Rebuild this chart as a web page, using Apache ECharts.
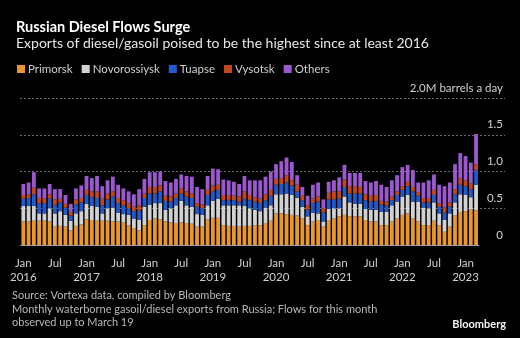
<!DOCTYPE html>
<html>
<head>
<meta charset="utf-8">
<script src="https://cdn.jsdelivr.net/npm/echarts@6/dist/echarts.min.js"></script>
<style>
html,body{margin:0;padding:0;background:#000;}
#chart{width:520px;height:338px;}
</style>
</head>
<body>
<div id="chart"></div>
<script>
const categories = [
"2016-01","2016-02","2016-03","2016-04","2016-05","2016-06","2016-07","2016-08","2016-09","2016-10","2016-11","2016-12",
"2017-01","2017-02","2017-03","2017-04","2017-05","2017-06","2017-07","2017-08","2017-09","2017-10","2017-11","2017-12",
"2018-01","2018-02","2018-03","2018-04","2018-05","2018-06","2018-07","2018-08","2018-09","2018-10","2018-11","2018-12",
"2019-01","2019-02","2019-03","2019-04","2019-05","2019-06","2019-07","2019-08","2019-09","2019-10","2019-11","2019-12",
"2020-01","2020-02","2020-03","2020-04","2020-05","2020-06","2020-07","2020-08","2020-09","2020-10","2020-11","2020-12",
"2021-01","2021-02","2021-03","2021-04","2021-05","2021-06","2021-07","2021-08","2021-09","2021-10","2021-11","2021-12",
"2022-01","2022-02","2022-03","2022-04","2022-05","2022-06","2022-07","2022-08","2022-09","2022-10","2022-11","2022-12",
"2023-01","2023-02","2023-03"
];
const primorsk = [
.32,.32,.33,.33,.33,.32,.25,.26,.25,.20,.26,.28,
.35,.34,.33,.33,.33,.32,.32,.31,.27,.23,.20,.27,
.34,.36,.35,.32,.31,.30,.31,.30,.29,.25,.25,.35,
.37,.37,.27,.26,.26,.25,.26,.26,.27,.27,.30,.33,
.43,.43,.42,.41,.40,.36,.27,.32,.34,.25,.34,.36,
.39,.41,.39,.39,.39,.34,.32,.32,.27,.27,.32,.36,
.41,.43,.36,.32,.27,.27,.33,.27,.18,.25,.40,.45,
.46,.48,.47
];
const novorossiysk = [
.21,.21,.20,.10,.10,.18,.18,.20,.16,.13,.17,.18,
.21,.19,.19,.10,.17,.19,.12,.11,.14,.13,.14,.25,
.21,.21,.22,.16,.19,.24,.29,.24,.23,.17,.16,.19,
.23,.26,.27,.28,.28,.29,.27,.24,.21,.19,.21,.21,
.26,.26,.28,.27,.24,.16,.12,.12,.09,.07,.15,.14,
.11,.25,.19,.17,.17,.15,.16,.16,.18,.18,.22,.23,
.25,.25,.23,.27,.24,.23,.25,.16,.16,.18,.18,.24,
.22,.17,.35
];
const tuapse = [
.10,.11,.16,.14,.14,.13,.12,.12,.10,.07,.12,.12,
.12,.12,.12,.11,.12,.15,.13,.12,.09,.10,.13,.12,
.15,.13,.16,.12,.09,.10,.10,.12,.12,.10,.09,.14,
.13,.12,.07,.07,.07,.05,.10,.11,.11,.11,.10,.13,
.13,.14,.15,.13,.09,.09,.09,.13,.16,.12,.13,.12,
.13,.13,.12,.14,.14,.12,.11,.12,.10,.09,.07,.09,
.09,.12,.14,.08,.07,.08,.10,.09,.10,.09,.11,.13,
.12,.11,.20
];
const vysotsk = [
.05,.05,.09,.07,.06,.06,.07,.05,.05,.05,.07,.06,
.07,.08,.09,.09,.08,.07,.07,.07,.07,.06,.07,.06,
.09,.09,.08,.07,.07,.06,.07,.07,.06,.05,.05,.07,
.08,.07,.07,.07,.06,.07,.10,.07,.06,.06,.08,.08,
.08,.08,.10,.07,.09,.07,.06,.06,.07,.06,.09,.11,
.10,.10,.10,.10,.09,.08,.08,.08,.05,.05,.05,.05,
.05,.06,.06,.05,.06,.06,.07,.05,.07,.06,.07,.09,
.08,.08,.08
];
const others = [
.15,.16,.21,.13,.14,.14,.14,.13,.12,.11,.15,.17,
.19,.18,.21,.17,.18,.20,.18,.16,.16,.17,.22,.20,
.20,.20,.19,.20,.19,.20,.19,.21,.23,.22,.21,.19,
.23,.21,.21,.20,.19,.17,.21,.20,.23,.25,.24,.25,
.20,.23,.24,.25,.13,.11,.13,.19,.19,.12,.15,.15,
.19,.20,.18,.18,.19,.18,.18,.19,.22,.20,.22,.22,
.26,.23,.23,.13,.21,.24,.21,.25,.29,.27,.34,.34,
.33,.28,.41
];
const seriesNames = ["Primorsk","Novorossiysk","Tuapse","Vysotsk","Others"];
const seriesColors = ["#E8962E","#D2D2D2","#1F5CCB","#C4461F","#9B58CF"];
const yTicks = [0, 0.5, 1, 1.5, 2];
const yUnitLabel = "2.0M barrels a day";
const footerLines = [
"Source: Vortexa data, compiled by Bloomberg",
"Monthly waterborne gasoil/diesel exports from Russia; Flows for this month",
"observed up to March 19"
];

const FONT = "Lato, 'Noto Sans', sans-serif";
const chart = echarts.init(document.getElementById('chart'), null, {renderer:'canvas'});
const values = [primorsk, novorossiysk, tuapse, vysotsk, others];

chart.setOption({
  backgroundColor: '#000',
  animation: false,
  textStyle: {fontFamily: FONT},
  title: {
    text: 'Russian Diesel Flows Surge',
    subtext: 'Exports of diesel/gasoil poised to be the highest since at least 2016',
    left: 11, top: 15, itemGap: 1,
    textStyle: {color:'#fff', fontSize:14.5, fontWeight:'bold', fontFamily: FONT},
    subtextStyle: {color:'#e6e6e6', fontSize:14, fontFamily: FONT}
  },
  legend: {
    data: seriesNames,
    left: 12, top: 58,
    icon: 'rect', itemWidth: 8, itemHeight: 8, itemGap: 9,
    textStyle: {color:'#cfcfcf', fontSize: 11.5, fontFamily: FONT, padding:[0,0,0,-2]}
  },
  grid: [
    {left: 20.7, width: 458, top: 98, bottom: 93},
    {left: 20, right: 15, top: 98, bottom: 93}
  ],
  xAxis: [
    {
      type: 'category', gridIndex: 0, data: categories,
      axisLine: {lineStyle: {color:'#a0a0a0', width:1}},
      axisTick: {alignWithLabel: true, length: 4, lineStyle:{color:'#a0a0a0'},
        interval: function(i, v){ const m = v.slice(5); return m==='01' || m==='07'; }},
      axisLabel: {
        interval: function(i, v){ const m = v.slice(5); return m==='01' || m==='07'; },
        color:'#d0d0d0', fontSize: 11.5, lineHeight: 14.5, margin: 11, fontFamily: FONT,
        formatter: function(v){ const y=v.slice(0,4), m=v.slice(5); return m==='01' ? 'Jan\n'+y : (m==='07' ? 'Jul' : ''); }
      },
      splitLine: {show:false}
    },
    {type:'value', gridIndex: 1, min: 0, max: 1, show: false}
  ],
  yAxis: [
    {type:'value', gridIndex: 0, min: 0, max: 2, show: false},
    {
      type:'value', gridIndex: 1, min: 0, max: 2, interval: 0.5, position:'right',
      axisLine:{show:false}, axisTick:{show:false},
      splitLine: {lineStyle: {type:[2,2], color:['rgba(0,0,0,0)','#6a6a6a','#6a6a6a','#6a6a6a','#6a6a6a'], width:1}},
      axisLabel: {
        inside: true, margin: 2, color:'#d0d0d0', fontSize: 11.5, fontFamily: FONT,
        verticalAlign:'bottom', padding:[0,0,4,0],
        formatter: function(v){ return v===2 ? yUnitLabel : (v===0 ? '0' : v.toFixed(1)); }
      }
    }
  ],
  series: seriesNames.map(function(name, k){
    return {
      name: name, type:'bar', stack:'total', xAxisIndex:0, yAxisIndex:0,
      barWidth: 3.8, itemStyle:{color: seriesColors[k]},
      data: values[k]
    };
  }),
  graphic: [
    {type:'text', left: 12, top: 289, style:{text: footerLines.join('\n'), fill:'#b8b8b8', font:'11px ' + FONT, lineHeight: 13.5}},
    {type:'text', right: 14, top: 319, style:{text:'Bloomberg', fill:'#f2f2f2', font:'bold 11px ' + FONT}}
  ]
});
</script>
</body>
</html>
